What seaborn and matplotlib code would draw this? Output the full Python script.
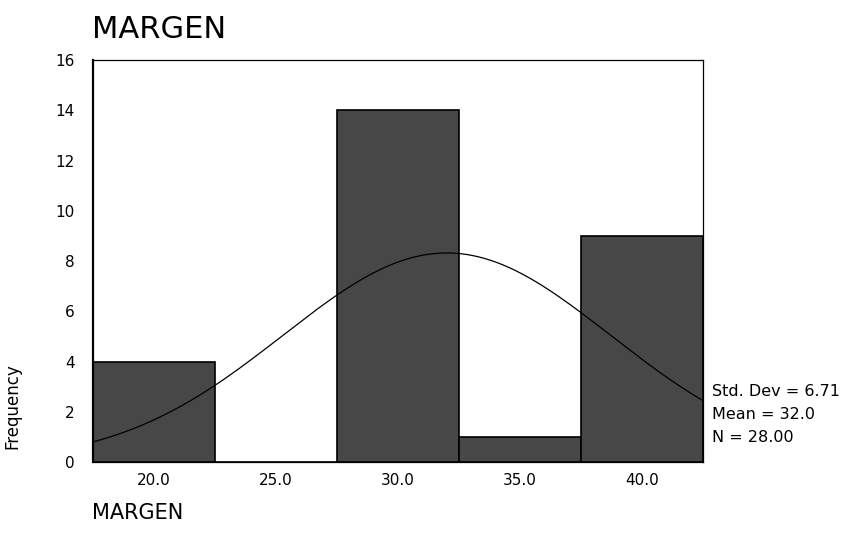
import numpy as np
import pandas as pd
import matplotlib
matplotlib.use('Agg')
import matplotlib.pyplot as plt
import seaborn as sns

# Histogram of MARGEN (SPSS style)
bin_centers = [20.0, 25.0, 30.0, 35.0, 40.0]
counts = [4, 0, 14, 1, 9]
bin_width = 5.0
std_dev = 6.71
mean = 32.0
n = 28.00

sns.set_style('white')
plt.rcParams['font.family'] = ['DejaVu Sans']
plt.rcParams['text.color'] = 'black'

df = pd.DataFrame({'MARGEN': bin_centers, 'count': counts})
lo = bin_centers[0] - bin_width / 2
hi = bin_centers[-1] + bin_width / 2

fig = plt.figure(figsize=(8.67, 5.4), dpi=100)
ax = fig.add_axes([0.107, 0.144, 0.704, 0.745])

sns.histplot(data=df, x='MARGEN', weights='count', binwidth=bin_width, binrange=(lo, hi),
             ax=ax, color='#474747', edgecolor='black', linewidth=1.2, alpha=1)

# fitted normal curve
xs = np.linspace(lo, hi, 300)
ys = n * bin_width / (std_dev * np.sqrt(2 * np.pi)) * np.exp(-0.5 * ((xs - mean) / std_dev) ** 2)
sns.lineplot(x=xs, y=ys, ax=ax, color='black', linewidth=0.9)

ax.set_xlim(lo, hi)
ax.set_ylim(0, 16)
ax.set_xticks(bin_centers)
ax.set_xticklabels([f'{v:.1f}' for v in bin_centers])
ax.set_yticks(range(0, 17, 2))
ax.tick_params(axis='both', direction='out', length=4, width=0.8, labelsize=11,
               color='black', labelcolor='black')
ax.tick_params(axis='x', pad=4)
ax.tick_params(axis='y', pad=9)
for s in ax.spines.values():
    s.set_color('black')
    s.set_linewidth(0.9)
ax.spines['left'].set_linewidth(1.6)

ax.set_xlabel('')
ax.set_ylabel('Frequency', fontsize=12, color='black')
ax.yaxis.set_label_coords(-0.117, 0.14)

fig.text(0.106, 0.945, 'MARGEN', fontsize=22, ha='left', va='center')
fig.text(0.106, 0.05, 'MARGEN', fontsize=15, ha='left', va='center')

stats = [f'Std. Dev = {std_dev:.2f}', f'Mean = {mean:.1f}', f'N = {n:.2f}']
for i, t in enumerate(stats):
    fig.text(0.821, 1 - (392 + 22.5 * i) / 540, t, fontsize=11.5, ha='left', va='center')

fig.savefig('out.png', dpi=100)
